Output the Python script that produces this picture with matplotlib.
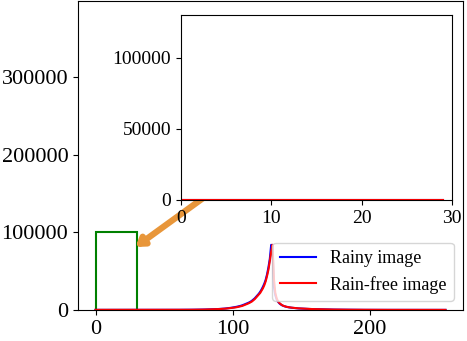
import matplotlib
matplotlib.use("Agg")
import matplotlib.pyplot as plt
from matplotlib.patches import Rectangle

plt.rcParams['font.family'] = ['Liberation Serif', 'DejaVu Serif']

# pixel intensity histogram (counts per grey level 0..255)
intensity = list(range(256))

rain_free = [
    # 0-29
    200, 200, 200, 200, 200, 200, 200, 200, 200, 200,
    200, 200, 200, 200, 200, 200, 200, 200, 200, 200,
    200, 200, 200, 200, 200, 200, 200, 200, 200, 200,
    # 30-79
    200, 200, 200, 200, 200, 200, 200, 200, 200, 200,
    200, 200, 200, 200, 200, 200, 200, 200, 200, 200,
    250, 250, 250, 250, 250, 250, 250, 250, 250, 250,
    300, 300, 300, 300, 300, 300, 300, 300, 300, 300,
    350, 350, 400, 400, 400, 450, 450, 500, 500, 550,
    # 80-109
    600, 650, 700, 750, 800, 850, 900, 950, 1000, 1100,
    1200, 1300, 1400, 1500, 1600, 1800, 2000, 2200, 2400, 2600,
    2800, 3000, 3300, 3600, 4000, 4400, 4800, 5300, 6000, 6800,
    # 110-139
    7500, 8200, 9000, 10000, 11000, 12500, 14000, 16000, 18000, 20000,
    22000, 25000, 28000, 32000, 37000, 44000, 52000, 63000, 75000, 84000,
    40000, 22000, 15000, 11000, 9000, 7500, 6200, 5300, 4700, 4200,
    # 140-169
    3800, 3500, 3200, 3000, 2800, 2600, 2400, 2300, 2100, 2000,
    1900, 1800, 1700, 1600, 1500, 1400, 1350, 1300, 1200, 1150,
    1100, 1050, 1000, 950, 900, 850, 800, 750, 700, 680,
    # 170-199
    650, 620, 600, 580, 550, 520, 500, 480, 460, 440,
    420, 400, 380, 360, 350, 340, 330, 320, 310, 300,
    290, 280, 270, 260, 250, 240, 230, 220, 210, 200,
    # 200-255
    200, 200, 200, 200, 200, 200, 200, 200, 200, 200,
    180, 180, 180, 180, 180, 180, 180, 180, 180, 180,
    160, 160, 160, 160, 160, 160, 160, 160, 160, 160,
    150, 150, 150, 150, 150, 150, 150, 150, 150, 150,
    150, 150, 150, 150, 150, 150, 150, 150, 150, 150,
    150, 150, 150, 150, 150, 150,
]

rainy = [
    # 0-29
    150, 150, 150, 150, 150, 150, 150, 150, 150, 150,
    150, 150, 150, 150, 150, 150, 150, 150, 150, 150,
    150, 150, 150, 150, 150, 150, 150, 150, 150, 150,
    # 30-79
    150, 150, 150, 150, 150, 150, 150, 150, 150, 150,
    200, 200, 200, 200, 200, 200, 200, 200, 200, 200,
    200, 200, 200, 200, 200, 250, 250, 250, 250, 250,
    250, 250, 300, 300, 300, 300, 300, 350, 350, 350,
    400, 400, 400, 450, 450, 500, 500, 550, 550, 600,
    # 80-109
    650, 700, 750, 800, 850, 900, 950, 1000, 1100, 1200,
    1300, 1400, 1500, 1600, 1800, 2000, 2200, 2400, 2600, 2900,
    3200, 3500, 3800, 4200, 4600, 5000, 5500, 6100, 6800, 7500,
    # 110-139
    8200, 9000, 9800, 10800, 12000, 13500, 15000, 17000, 19000, 21000,
    23500, 26500, 30000, 34000, 39000, 46000, 55000, 66000, 84000, 80000,
    30000, 19000, 13500, 10500, 8500, 7000, 6000, 5200, 4600, 4100,
    # 140-169
    3700, 3400, 3100, 2900, 2700, 2500, 2300, 2200, 2000, 1900,
    1800, 1700, 1600, 1500, 1450, 1350, 1300, 1250, 1150, 1100,
    1050, 1000, 950, 900, 850, 800, 760, 720, 680, 650,
    # 170-199
    620, 600, 580, 550, 520, 500, 480, 460, 440, 420,
    400, 380, 360, 350, 340, 330, 320, 310, 300, 290,
    280, 270, 260, 250, 240, 230, 220, 210, 200, 200,
    # 200-255
    200, 200, 200, 200, 200, 200, 200, 200, 200, 200,
    180, 180, 180, 180, 180, 180, 180, 180, 180, 180,
    160, 160, 160, 160, 160, 160, 160, 160, 160, 160,
    150, 150, 150, 150, 150, 150, 150, 150, 150, 150,
    150, 150, 150, 150, 150, 150, 150, 150, 150, 150,
    150, 150, 150, 150, 150, 150,
]

zoom_x = (0, 30)
zoom_y = (0, 100000)

fig = plt.figure(figsize=(4.67, 3.41), dpi=100)
ax = fig.add_axes([78 / 467, 31 / 341, 385 / 467, 309 / 341])
ax.plot(intensity, rainy, color='blue', lw=1.5, label='Rainy image')
ax.plot(intensity, rain_free, color='red', lw=1.5, label='Rain-free image')
ax.add_patch(Rectangle((zoom_x[0], zoom_y[0]), zoom_x[1] - zoom_x[0], zoom_y[1] - zoom_y[0],
                       fill=False, edgecolor='green', lw=1.5))
ax.annotate('', xy=(27.5, 79000), xytext=(97, 168000),
            arrowprops=dict(arrowstyle='-|>,head_length=0.45,head_width=0.3',
                            color='#e8963a', lw=4.5))
ax.set_xlim(-12.75, 267.75)
ax.set_ylim(0, 398000)
ax.set_xticks([0, 100, 200])
ax.set_yticks([0, 100000, 200000, 300000])
ax.tick_params(labelsize=16)
ax.legend(loc='lower right', fontsize=13)

ins = fig.add_axes([181 / 467, 141 / 341, 271 / 467, 185 / 341])
ins.plot(intensity[:30], rainy[:30], color='blue', lw=1.5)
ins.plot(intensity[:30], rain_free[:30], color='red', lw=1.5)
ins.set_xlim(0, 30)
ins.set_ylim(0, 130000)
ins.set_xticks([0, 10, 20, 30])
ins.set_yticks([0, 50000, 100000])
ins.tick_params(labelsize=14)

fig.savefig('out.png', dpi=100)
